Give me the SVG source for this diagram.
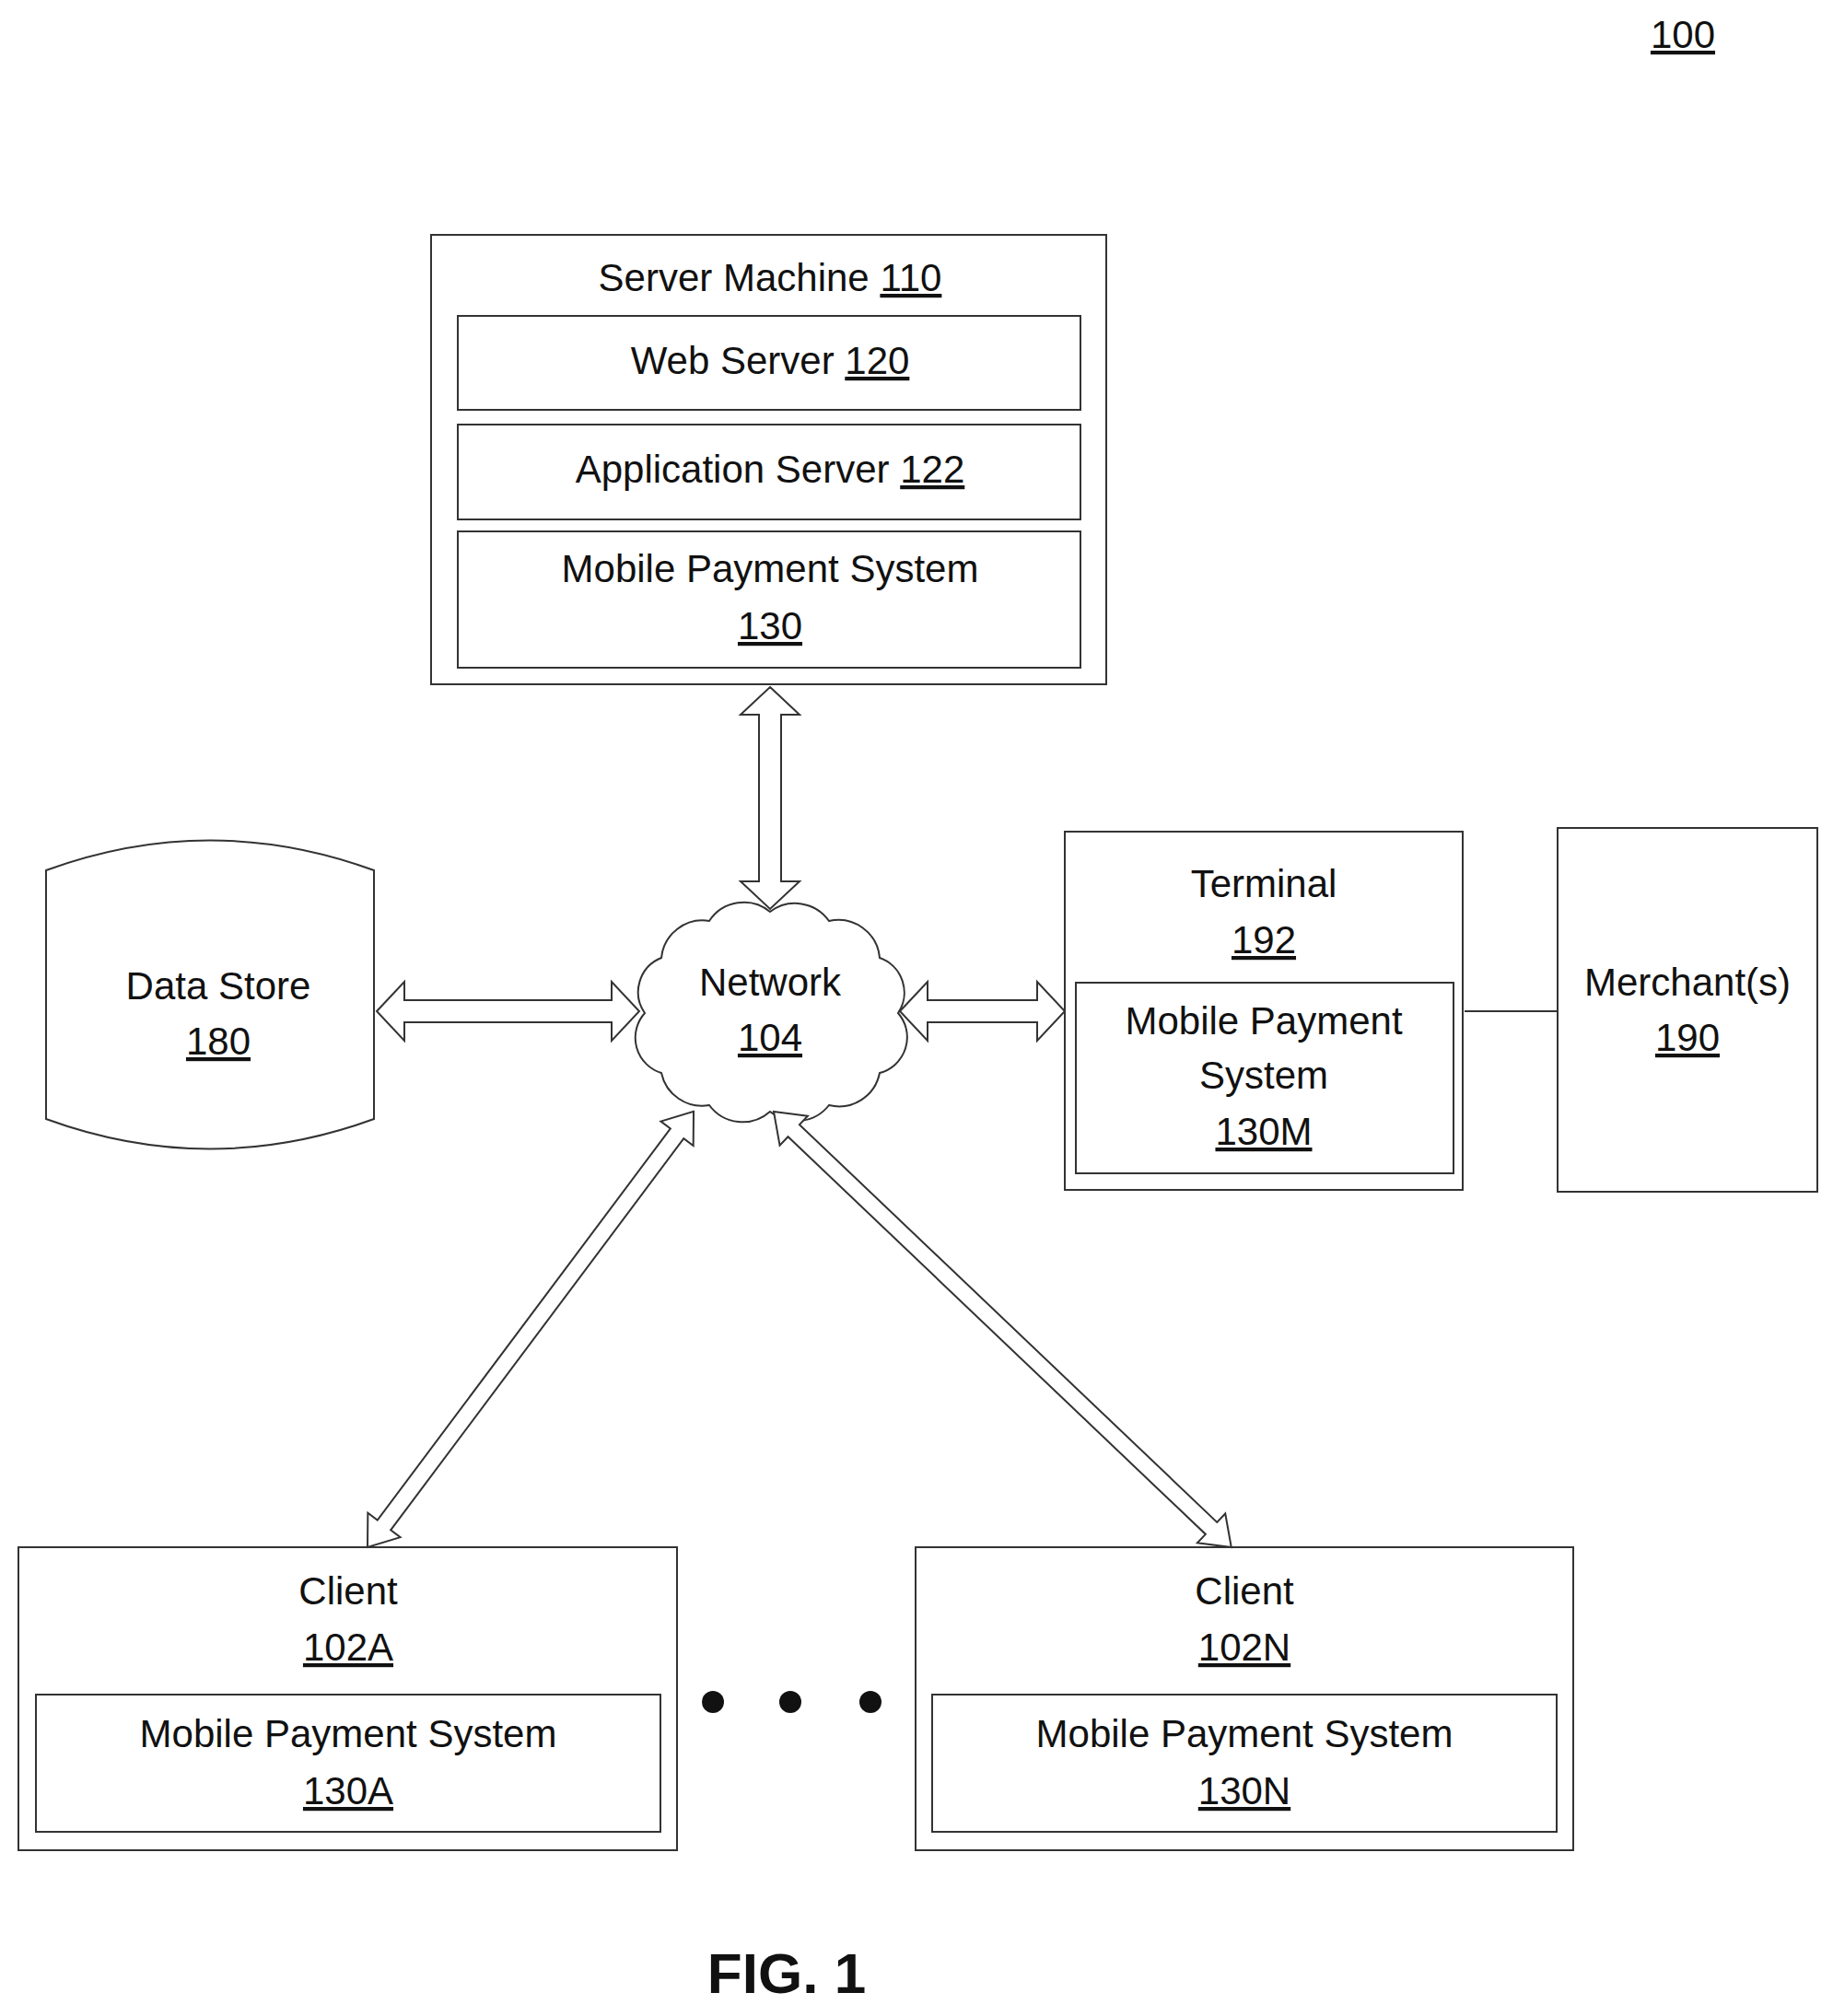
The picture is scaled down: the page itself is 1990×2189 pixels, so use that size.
<svg xmlns="http://www.w3.org/2000/svg" width="1990" height="2189" viewBox="0 0 1990 2189">
<style>
text{font-family:"Liberation Sans",Arial,sans-serif;font-size:42px;fill:#111;text-anchor:middle}
.u{text-decoration:underline}
.b{fill:#fff;stroke:#333;stroke-width:2}
.fig{font-size:62px;font-weight:bold}
</style>
<rect width="1990" height="2189" fill="#fff"/>
<text x="1827" y="52" class="u">100</text>
<g id="server">
<rect class="b" x="468" y="255" width="733" height="488"/>
<text x="836" y="316">Server Machine <tspan class="u">110</tspan></text>
</g>
<g id="web"><rect class="b" x="497" y="343" width="676" height="102"/><text x="836" y="406">Web Server <tspan class="u">120</tspan></text></g>
<g id="app"><rect class="b" x="497" y="461" width="676" height="103"/><text x="836" y="524">Application Server <tspan class="u">122</tspan></text></g>
<g id="mps130"><rect class="b" x="497" y="577" width="676" height="148"/><text x="836" y="632">Mobile Payment System</text><text x="836" y="694" class="u">130</text></g>
<g id="datastore"><path class="b" d="M50,945 Q228,880 406,945 V1215 Q228,1280 50,1215 Z"/><text x="237" y="1085">Data Store</text><text x="237" y="1145" class="u">180</text></g>
<g id="network"><path class="b" d="M700,1100 A40,40 0 0 1 718,1040 A45,45 0 0 1 770,1000 A45,45 0 0 1 836,990 A45,45 0 0 1 900,1000 A45,45 0 0 1 955,1040 A40,40 0 0 1 975,1100 A40,40 0 0 1 955,1165 A45,45 0 0 1 900,1200 A45,45 0 0 1 836,1207 A45,45 0 0 1 770,1200 A45,45 0 0 1 718,1165 A40,40 0 0 1 700,1100 Z"/><text x="836" y="1081">Network</text><text x="836" y="1141" class="u">104</text></g>
<g id="terminal"><rect class="b" x="1156" y="903" width="432" height="389"/><text x="1372" y="974">Terminal</text><text x="1372" y="1035" class="u">192</text></g>
<g id="mps130m"><rect class="b" x="1168" y="1067" width="410" height="207"/><text x="1372" y="1123">Mobile Payment</text><text x="1372" y="1182">System</text><text x="1372" y="1243" class="u">130M</text></g>
<g id="merchant"><rect class="b" x="1691" y="899" width="282" height="395"/><text x="1832" y="1081">Merchant(s)</text><text x="1832" y="1141" class="u">190</text></g>
<g id="clientA"><rect class="b" x="20" y="1680" width="715" height="329"/><text x="378" y="1742">Client</text><text x="378" y="1803" class="u">102A</text></g>
<g id="mps130a"><rect class="b" x="39" y="1840" width="678" height="149"/><text x="378" y="1897">Mobile Payment System</text><text x="378" y="1959" class="u">130A</text></g>
<g id="clientN"><rect class="b" x="994" y="1680" width="714" height="329"/><text x="1351" y="1742">Client</text><text x="1351" y="1803" class="u">102N</text></g>
<g id="mps130n"><rect class="b" x="1012" y="1840" width="678" height="149"/><text x="1351" y="1897">Mobile Payment System</text><text x="1351" y="1959" class="u">130N</text></g>
<g id="dots" fill="#111"><circle cx="774" cy="1848" r="12"/><circle cx="858" cy="1848" r="12"/><circle cx="945" cy="1848" r="12"/></g>
<g id="connectors" class="b">
<polygon class="b" transform="translate(836,746) rotate(90)" points="0,0 30,-32 30,-12 211,-12 211,-32 241,0 211,32 211,12 30,12 30,32"/>
<polygon class="b" transform="translate(409,1098)" points="0,0 30,-32 30,-12 255,-12 255,-32 285,0 255,32 255,12 30,12 30,32"/>
<polygon class="b" transform="translate(977,1098)" points="0,0 30,-32 30,-12 149,-12 149,-32 179,0 149,32 149,12 30,12 30,32"/>
<polygon class="b" transform="translate(399,1680) rotate(-53.2)" points="0,0 30,-22 30,-9 561,-9 561,-22 591,0 561,22 561,9 30,9 30,22"/>
<polygon class="b" transform="translate(840,1207) rotate(43.6)" points="0,0 30,-22 30,-9 656,-9 656,-22 686,0 656,22 656,9 30,9 30,22"/>
<line x1="1590" y1="1098" x2="1691" y2="1098" stroke="#333" stroke-width="2"/>
</g>
<text x="854" y="2164" class="fig">FIG. 1</text>
</svg>
